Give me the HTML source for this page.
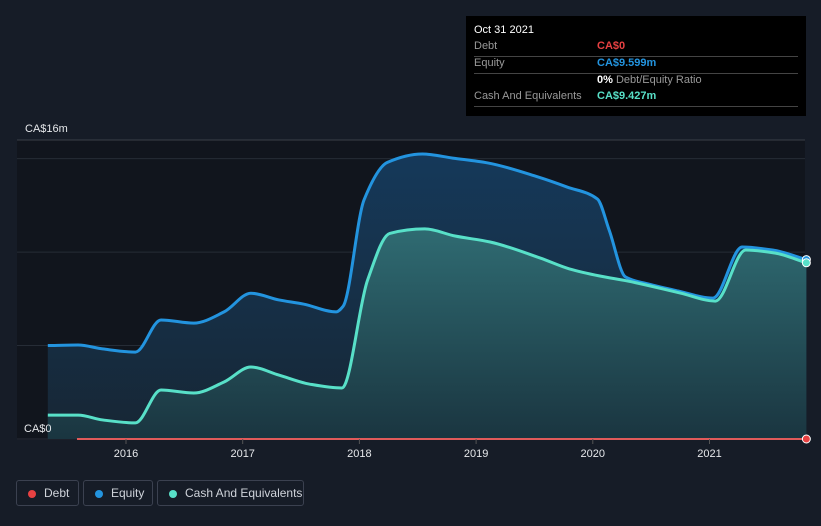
<!DOCTYPE html>
<html><head><meta charset="utf-8"><style>
body{margin:0;background:#161c27;font-family:"Liberation Sans",sans-serif;}
#wrap{position:relative;width:821px;height:526px;overflow:hidden;background:#161c27;}
.leg{position:absolute;top:480px;height:26px;border:1px solid #3b4150;border-radius:3px;color:#cfd3da;font-size:12px;line-height:24px;box-sizing:border-box;padding-left:27px;white-space:nowrap;}
.leg i{position:absolute;left:11px;top:9px;width:8px;height:8px;border-radius:50%;}
#tip{position:absolute;left:466px;top:16px;width:340px;height:100px;background:#000;color:#fff;font-size:11px;}
#tip .r{position:absolute;left:8px;width:324px;border-bottom:1px solid #444;height:16px;}
#tip span{position:absolute;}
</style></head><body>
<div id="wrap">
<svg id="svg" width="821" height="526" style="position:absolute;left:0;top:0">
<defs>
<linearGradient id="ge" x1="0" y1="0" x2="0" y2="1"><stop offset="0" stop-color="#15395a"/><stop offset="1" stop-color="#172634"/></linearGradient>
<linearGradient id="gc" x1="0" y1="0" x2="0" y2="1"><stop offset="0" stop-color="#2f6b72"/><stop offset="1" stop-color="#1a3540"/></linearGradient>
</defs>
<rect x="17" y="140" width="788" height="300" fill="#11151d"/>
<g id="grid"></g><g id="marks"></g><g id="axis"></g>
</svg>
<div id="tip">
<div style="position:absolute;left:8px;top:8px;font-size:11px">Oct 31 2021</div>
<div class="r" style="top:24px"><span style="left:0;top:0;color:#999">Debt</span><span style="left:123px;color:#e84142;font-weight:bold">CA$0</span></div>
<div class="r" style="top:41px"><span style="left:0;color:#999">Equity</span><span style="left:123px;color:#2394df;font-weight:bold">CA$9.599m</span></div>
<div style="position:absolute;left:131px;top:58px;color:#999"><b style="color:#fff">0%</b> Debt/Equity Ratio</div>
<div class="r" style="top:74px"><span style="left:0;color:#999">Cash And Equivalents</span><span style="left:123px;color:#58e0c8;font-weight:bold">CA$9.427m</span></div>
</div>
<div class="leg" style="left:16px;width:63px"><i style="background:#e84142"></i>Debt</div>
<div class="leg" style="left:83px;width:70px"><i style="background:#2394df"></i>Equity</div>
<div class="leg" style="left:157px;width:147px"><i style="background:#58e0c8"></i>Cash And Equivalents</div>
</div>
<script>
const eqT=[2015.33,2015.59,2015.8,2016.08,2016.3,2016.58,2016.84,2017.07,2017.31,2017.52,2017.8,2017.86,2018.04,2018.24,2018.54,2018.8,2019.1,2019.53,2019.78,2020.04,2020.14,2020.28,2020.47,2020.73,2021.03,2021.28,2021.54,2021.83];
const eqV=[5.0,5.03,4.82,4.65,6.37,6.2,6.8,7.8,7.44,7.22,6.8,7.1,12.8,14.8,15.25,15.03,14.77,14.02,13.48,12.84,11.18,8.67,8.3,7.92,7.54,10.27,10.11,9.599];
const caT=[2015.33,2015.59,2015.8,2016.08,2016.3,2016.58,2016.84,2017.07,2017.31,2017.57,2017.85,2018.07,2018.26,2018.56,2018.82,2019.12,2019.55,2019.8,2020.06,2020.3,2020.75,2021.05,2021.31,2021.56,2021.83];
const caV=[1.28,1.28,1.02,0.86,2.62,2.46,3.05,3.85,3.42,2.94,2.73,8.5,11.0,11.24,10.86,10.54,9.68,9.1,8.72,8.45,7.81,7.38,10.11,9.95,9.427];
const dbT=[2015.58,2021.83];
const dbV=[0,0];
const yTicks=[0,5,10,15,16];
const xTicks=[2016,2017,2018,2019,2020,2021];
const X=t=>126+(t-2016)*116.7;
const Y=v=>439-v*18.69;
const NS='http://www.w3.org/2000/svg';
function mk(tag,at,parent,name){const e=document.createElementNS(NS,tag);for(const k in at)e.setAttribute(k,at[k]);


document.getElementById(parent).appendChild(e);return e;}
function path(T,V){const x=T.map(X),y=V.map(Y),n=x.length;
if(n<3){return 'M'+x.map((v,i)=>v+','+y[i]).join('L');}
const d=[],m=new Array(n);
for(let i=0;i<n-1;i++)d.push((y[i+1]-y[i])/(x[i+1]-x[i]));
m[0]=d[0];m[n-1]=d[n-2];
for(let i=1;i<n-1;i++){if(d[i-1]*d[i]<=0)m[i]=0;else{const h0=x[i]-x[i-1],h1=x[i+1]-x[i];m[i]=3*(h0+h1)/((2*h1+h0)/d[i-1]+(h1+2*h0)/d[i]);}}
let s='M'+x[0]+','+y[0];
for(let i=0;i<n-1;i++){const h=(x[i+1]-x[i])/3;s+=`C${x[i]+h},${y[i]+m[i]*h} ${x[i+1]-h},${y[i+1]-m[i+1]*h} ${x[i+1]},${y[i+1]}`;}
return s;}
yTicks.forEach(v=>{mk('line',{x1:17,x2:805,y1:Y(v),y2:Y(v),stroke:v==16?'#3a3f48':'#262c36','stroke-width':1},'grid','gridline');});
mk('text',{x:25,y:132,fill:'#e6e8eb','font-size':11},'axis','y-label-max').textContent='CA$16m';
mk('text',{x:24,y:432,fill:'#e6e8eb','font-size':11},'axis','y-label-zero').textContent='CA$0';
xTicks.forEach(t=>{mk('line',{x1:X(t),x2:X(t),y1:439,y2:444,stroke:'#555'},'axis','x-tick');
mk('text',{x:X(t),y:457,fill:'#e6e8eb','font-size':11,'text-anchor':'middle'},'axis','x-tick-label').textContent=t;});
const ed=path(eqT,eqV),cd=path(caT,caV);
mk('path',{d:ed+`L${X(eqT[eqT.length-1])},439L${X(eqT[0])},439Z`,fill:'url(#ge)'},'marks','equity-area');
mk('path',{d:cd+`L${X(caT[caT.length-1])},439L${X(caT[0])},439Z`,fill:'url(#gc)'},'marks','cash-area');
mk('path',{d:ed,fill:'none',stroke:'#2394df','stroke-width':3},'marks','equity-line');
mk('path',{d:cd,fill:'none',stroke:'#58e0c8','stroke-width':3},'marks','cash-line');
mk('path',{d:path(dbT,dbV),fill:'none',stroke:'#e05a5a','stroke-width':2},'marks','debt-line');
mk('circle',{cx:X(2021.83),cy:Y(9.599),r:4,fill:'#2394df',stroke:'#fff','stroke-width':1},'marks','equity-point');
mk('circle',{cx:X(2021.83),cy:Y(9.427),r:4,fill:'#58e0c8',stroke:'#fff','stroke-width':1},'marks','cash-point');
mk('circle',{cx:X(2021.83),cy:Y(0),r:4,fill:'#e84142',stroke:'#fff','stroke-width':1},'marks','debt-point');
</script>
</body></html>
